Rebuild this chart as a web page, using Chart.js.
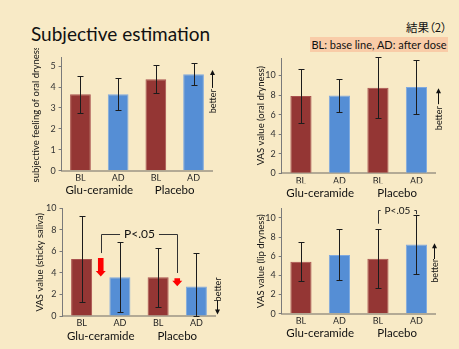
<!DOCTYPE html>
<html>
<head>
<meta charset="utf-8">
<script src="https://cdn.jsdelivr.net/npm/chart.js@4.4.0/dist/chart.umd.min.js"></script>
<style>
  html, body { margin: 0; padding: 0; }
  body {
    width: 459px; height: 349px; overflow: hidden; position: relative;
    background: #f8eac6; font-family: Lato, sans-serif; color: #111;
  }
  #titulo { position: absolute; left: 31px; top: 22px; font-size: 19px; white-space: nowrap; }
  #kekka {
    position: absolute; right: 12px; top: 19px; font-size: 11.5px;
    font-family: "Noto Sans CJK JP", sans-serif; font-feature-settings: "palt";
  }
  #nota {
    position: absolute; left: 310px; top: 37px; width: 138px; height: 15px;
    background: #f9cca8; font-size: 11px; line-height: 15px; text-align: center; white-space: nowrap;
  }
  canvas { position: absolute; }
</style>
</head>
<body>
<div id="titulo">Subjective estimation</div>
<div id="kekka">結果（2）</div>
<div id="nota">BL: base line, AD: after dose</div>
<canvas id="g1" width="230" height="152" style="left:0;top:48px"></canvas>
<canvas id="g2" width="229" height="152" style="left:230px;top:48px"></canvas>
<canvas id="g3" width="230" height="149" style="left:0;top:200px"></canvas>
<canvas id="g4" width="229" height="149" style="left:230px;top:200px"></canvas>
<script>
// dados
const categorias = ['BL', 'AD', 'BL', 'AD'];
const grupos = ['Glu-ceramide', 'Placebo'];

const sensacaoOral = [3.66, 3.66, 4.37, 4.61];
const sensacaoOralDP = [0.88, 0.78, 0.67, 0.52];

const vasOral = [7.9, 7.97, 8.75, 8.82];
const vasOralDP = [2.73, 1.72, 3.11, 2.73];

const vasSaliva = [5.3, 3.6, 3.6, 2.75];
const vasSalivaDP = [4.0, 3.27, 2.72, 3.1];

const vasLabio = [5.43, 6.14, 5.73, 7.23];
const vasLabioDP = [2.06, 2.67, 3.07, 3.1];

// P<.05: de/até (índice da categoria), topo e pés (valor)
const chaveSaliva = [0.5, 2.5, 7.6, 5.85, 4.0];
const chaveLabio = [2, 3, 10.8, 9.4, 10.4];
// setas vermelhas: posição, início, fim
const setasSaliva = [[0.5, 5.4, 3.66], [2.5, 3.5, 2.77]];

const corBL = '#943634';
const corAD = '#558ed5';

Chart.defaults.font.family = 'Lato, sans-serif';
Chart.defaults.color = '#222';

const extras = {
    id: 'extras',
    afterDatasetsDraw(chart, args, opts) {
        const { ctx, chartArea } = chart;
        const x = chart.scales.x;
        const y = chart.scales.y;
        ctx.save();

        // barras de erro
        ctx.strokeStyle = '#1c1c1c';
        ctx.lineWidth = 1;
        chart.data.datasets[0].data.forEach((v, i) => {
            const px = Math.round(x.getPixelForValue(i)) + 0.5;
            const topo = Math.round(y.getPixelForValue(v + opts.dp[i])) + 0.5;
            const base = Math.round(y.getPixelForValue(Math.max(v - opts.dp[i], y.min))) + 0.5;
            ctx.beginPath();
            ctx.moveTo(px, topo); ctx.lineTo(px, base);
            ctx.moveTo(px - 3, topo); ctx.lineTo(px + 3, topo);
            ctx.moveTo(px - 3, base); ctx.lineTo(px + 3, base);
            ctx.stroke();
        });

        // "better"
        const b = opts.better;
        const bx = Math.round(chartArea.right + b.dx) + 0.5;
        const ponta = y.getPixelForValue(b.tip);
        const cauda = y.getPixelForValue(b.tail);
        const dir = ponta < cauda ? -1 : 1;
        ctx.strokeStyle = '#111';
        ctx.fillStyle = '#111';
        ctx.beginPath();
        ctx.moveTo(bx, cauda); ctx.lineTo(bx, ponta - dir * 3);
        ctx.stroke();
        ctx.beginPath();
        ctx.moveTo(bx, ponta);
        ctx.lineTo(bx - 2.5, ponta - dir * 5);
        ctx.lineTo(bx + 2.5, ponta - dir * 5);
        ctx.closePath();
        ctx.fill();
        ctx.save();
        ctx.translate(bx + 1, y.getPixelForValue(b.text));
        ctx.rotate(-Math.PI / 2);
        ctx.font = '9px Lato, sans-serif';
        ctx.textAlign = 'center';
        ctx.textBaseline = 'middle';
        ctx.fillText('better', 0, 0);
        ctx.restore();

        // chave P<.05
        if (opts.chave) {
            const [de, ate, topo, pe1, pe2] = opts.chave;
            const x1 = Math.round(x.getPixelForValue(de)) + 0.5;
            const x2 = Math.round(x.getPixelForValue(ate)) + 0.5;
            const yt = Math.round(y.getPixelForValue(topo)) + 0.5;
            ctx.font = opts.chaveFonte + 'px Lato, sans-serif';
            const w = ctx.measureText('P<.05').width;
            const meio = (x1 + x2) / 2;
            ctx.strokeStyle = '#333';
            ctx.beginPath();
            ctx.moveTo(x1, y.getPixelForValue(pe1));
            ctx.lineTo(x1, yt);
            ctx.lineTo(meio - w / 2 - 4, yt);
            ctx.moveTo(meio + w / 2 + 4, yt);
            ctx.lineTo(x2, yt);
            ctx.lineTo(x2, y.getPixelForValue(pe2));
            ctx.stroke();
            ctx.fillStyle = '#111';
            ctx.textAlign = 'center';
            ctx.textBaseline = 'middle';
            ctx.fillText('P<.05', meio, yt);
        }

        // setas vermelhas
        (opts.setas || []).forEach(([pos, ini, fim]) => {
            const sx = x.getPixelForValue(pos);
            const y1 = y.getPixelForValue(ini);
            const y2 = y.getPixelForValue(fim);
            const cab = 5.5;
            ctx.fillStyle = '#ff0000';
            ctx.beginPath();
            ctx.moveTo(sx - 2.8, y1);
            ctx.lineTo(sx + 2.8, y1);
            ctx.lineTo(sx + 2.8, y2 - cab);
            ctx.lineTo(sx + 5, y2 - cab);
            ctx.lineTo(sx, y2);
            ctx.lineTo(sx - 5, y2 - cab);
            ctx.lineTo(sx - 2.8, y2 - cab);
            ctx.closePath();
            ctx.fill();
        });

        ctx.restore();
    }
};

function criarGrafico(id, valores, dp, cfg) {
    const ctx = document.getElementById(id).getContext('2d');
    return new Chart(ctx, {
        type: 'bar',
        data: {
            labels: categorias,
            datasets: [{
                data: valores,
                backgroundColor: [corBL, corAD, corBL, corAD],
                borderColor: ['#a9514e', '#7fa9df', '#a9514e', '#7fa9df'],
                borderWidth: 1,
                barPercentage: 0.55,
                categoryPercentage: 1
            }]
        },
        options: {
            responsive: false,
            animation: false,
            events: [],
            layout: { padding: cfg.pad },
            plugins: {
                legend: { display: false },
                tooltip: { enabled: false },
                extras: { dp, better: cfg.better, chave: cfg.chave, chaveFonte: cfg.chaveFonte, setas: cfg.setas }
            },
            scales: {
                x: {
                    weight: 0,
                    grid: { display: false, drawTicks: false },
                    border: { display: true, color: '#b3aa95', width: 2 },
                    ticks: { font: { size: 9 }, padding: 2, color: '#222' },
                    afterFit: (s) => { s.height = 10; }
                },
                x2: {
                    type: 'category',
                    position: 'bottom',
                    weight: 1,
                    labels: grupos,
                    grid: { display: false, drawTicks: false },
                    border: { display: false },
                    ticks: { font: { size: 11.5 }, padding: 3, color: '#111' },
                    afterFit: (s) => { s.height = 16; }
                },
                y: {
                    min: 0,
                    max: cfg.max,
                    grid: { display: true, drawOnChartArea: false, tickLength: 3, color: '#7a7a7a' },
                    border: { display: true, color: '#7a7a7a', width: 1 },
                    ticks: { stepSize: cfg.passo, includeBounds: false, font: { size: 9 }, padding: 3, color: '#333' },
                    title: {
                        display: true,
                        text: cfg.titulo,
                        font: { size: 9.5 },
                        color: '#111',
                        padding: { top: cfg.tituloPad, bottom: 0 }
                    },
                    afterFit: (s) => { s.width = cfg.larguraY; }
                }
            }
        },
        plugins: [extras]
    });
}

criarGrafico('g1', sensacaoOral, sensacaoOralDP, {
    max: 5.4, passo: 1, titulo: 'subjective feeling of oral dryness',
    larguraY: 61.6, tituloPad: 30, pad: { left: 0, right: 17.6, top: 9.8, bottom: 3.3 },
    better: { dx: -0.7, tip: 4.82, tail: 3.96, text: 3.32 }
});

criarGrafico('g2', vasOral, vasOralDP, {
    max: 11.8, passo: 2, titulo: 'VAS value (oral dryness)',
    larguraY: 51.7, tituloPad: 25, pad: { left: 0, right: 23.3, top: 10, bottom: 0.7 },
    better: { dx: 2.6, tip: 8.71, tail: 7.07, text: 5.64 }
});

criarGrafico('g3', vasSaliva, vasSalivaDP, {
    max: 10, passo: 2, titulo: 'VAS value (sticky saliva)',
    larguraY: 62.5, tituloPad: 34, pad: { left: 0, right: 14.5, top: 6.7, bottom: 7 },
    better: { dx: 1, tip: 0.15, tail: 1.46, text: 2.47 },
    chave: chaveSaliva, chaveFonte: 12, setas: setasSaliva
});

criarGrafico('g4', vasLabio, vasLabioDP, {
    max: 11, passo: 2, titulo: 'VAS value (lip dryness)',
    larguraY: 51.7, tituloPad: 25, pad: { left: 0, right: 23.3, top: 7, bottom: 9.3 },
    better: { dx: -1.7, tip: 7.36, tail: 5.71, text: 4.47 },
    chave: chaveLabio, chaveFonte: 10
});
</script>
</body>
</html>
